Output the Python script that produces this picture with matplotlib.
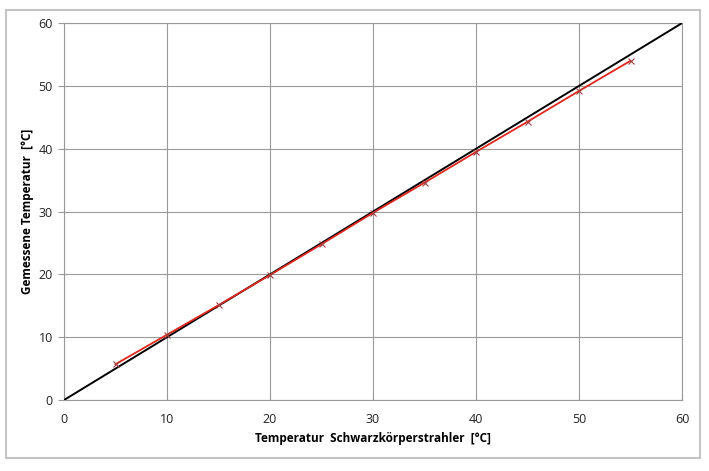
import matplotlib.pyplot as plt
from matplotlib.patches import Rectangle

# Messwerte
ref_temp = [0, 60]
ref_line = [0, 60]
bb_temp = [5, 10, 15, 20, 25, 30, 35, 40, 45, 50, 55]
measured = [5.7, 10.4, 15.1, 19.9, 24.8, 29.8, 34.6, 39.5, 44.3, 49.2, 54.0]
ticks = [0, 10, 20, 30, 40, 50, 60]

plt.rcParams['font.family'] = ['Open Sans', 'DejaVu Sans']

fig = plt.figure(figsize=(7.09, 4.71), dpi=100)
ax = fig.add_axes([0.0903, 0.1507, 0.8717, 0.8003])

# Rahmen um das Diagramm
fig.patches.append(Rectangle((0.008, 0.028), 0.98, 0.95, transform=fig.transFigure,
                             fill=False, edgecolor='#c4c4c4', linewidth=1.5))

ax.plot(ref_temp, ref_line, color='black', linewidth=1.4, zorder=3)
ax.plot(bb_temp, measured, color='#e0261c', linewidth=1.3, marker='x',
        markersize=5, markeredgecolor='#a04040', markeredgewidth=0.8, zorder=4)

ax.set_xlim(0, 60)
ax.set_ylim(0, 60)
ax.set_xticks(ticks)
ax.set_yticks(ticks)
ax.grid(True, color='#9a9a9a', linewidth=0.8)
ax.set_axisbelow(True)
for s in ax.spines.values():
    s.set_color('#9a9a9a')
    s.set_linewidth(0.8)
ax.tick_params(axis='both', length=4, color='#9a9a9a', labelsize=9, labelcolor='#222222')
ax.tick_params(axis='x', direction='in', pad=9)
ax.tick_params(axis='y', direction='out', pad=4)

ax.set_xlabel('Temperatur  Schwarzkörperstrahler  [°C]', fontsize=8.5, fontweight='bold', labelpad=5)
ax.set_ylabel('Gemessene Temperatur  [°C]', fontsize=8.5, fontweight='bold', labelpad=3)

fig.savefig('out.png', dpi=100)
